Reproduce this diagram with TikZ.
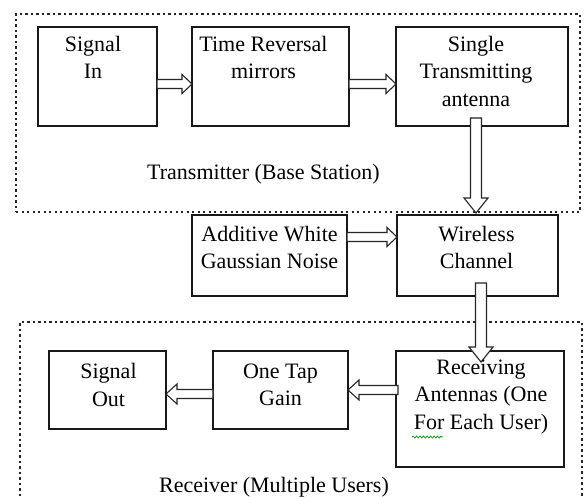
\documentclass[tikz,border=0pt]{standalone}
\usepackage{fontspec}
\setmainfont{Liberation Serif}
\usetikzlibrary{calc,decorations.pathmorphing}

\tikzset{
  box/.style={draw=black!90, line width=1.4pt, anchor=north west, inner sep=0pt, outer sep=0pt},
  txt/.style={anchor=north, align=center, inner sep=0pt, text=black,
              font=\fontsize{22}{27.5}\selectfont, execute at begin node=\strut},
  group/.style={draw=black!85, line width=2.2pt, dash pattern=on 2.2pt off 3.3pt,
                anchor=north west, inner sep=0pt, outer sep=0pt},
  blk/.style={draw=black!85, line width=1.1pt, fill=white, line join=miter},
  caption/.style={anchor=base, inner sep=0pt, text=black, font=\fontsize{22}{27.5}\selectfont},
}

% hollow block arrows between two anchor points
\newcommand\blockright[2]{\draw[blk] let \p1=#1, \p2=#2 in
  (\x1,{\y1+4.5pt}) -- ({\x2-10pt},{\y1+4.5pt}) -- ({\x2-10pt},{\y1+9.5pt}) -- (\x2,\y1)
  -- ({\x2-10pt},{\y1-9.5pt}) -- ({\x2-10pt},{\y1-4.5pt}) -- (\x1,{\y1-4.5pt}) -- cycle;}
\newcommand\blockleft[2]{\draw[blk] let \p1=#1, \p2=#2 in
  (\x1,{\y1+4.5pt}) -- ({\x2+11pt},{\y1+4.5pt}) -- ({\x2+11pt},{\y1+10pt}) -- (\x2,\y1)
  -- ({\x2+11pt},{\y1-10pt}) -- ({\x2+11pt},{\y1-4.5pt}) -- (\x1,{\y1-4.5pt}) -- cycle;}
\newcommand\blockdown[2]{\draw[blk] let \p1=#1, \p2=#2 in
  ({\x1-5.5pt},\y1) -- ({\x1-5.5pt},{\y2+15pt}) -- ({\x1-12pt},{\y2+15pt}) -- (\x1,\y2)
  -- ({\x1+12pt},{\y2+15pt}) -- ({\x1+5.5pt},{\y2+15pt}) -- ({\x1+5.5pt},\y1) -- cycle;}

\begin{document}
\begin{tikzpicture}[x=1pt,y=-1pt]
  \fill[white] (0,0) rectangle (584,497);
  \clip (0,0) rectangle (584,497);

  % dotted enclosures
  \node[group, minimum width=564pt, minimum height=198pt] (tx) at (16,14) {};
  \node[group, minimum width=562pt, minimum height=200pt] (rx) at (20,322) {};

  % blocks
  \node[box, minimum width=119pt, minimum height=99pt] (sigin)  at (38,27)  {};
  \node[box, minimum width=157pt, minimum height=99pt] (trm)    at (192,27) {};
  \node[box, minimum width=172pt, minimum height=99pt] (sta)    at (396,27) {};
  \node[box, minimum width=155pt, minimum height=81pt] (awgn)   at (192,215) {};
  \node[box, minimum width=161pt, minimum height=81pt] (wch)    at (397,215) {};
  \node[box, minimum width=117pt, minimum height=78pt] (sigout) at (49,351) {};
  \node[box, minimum width=135pt, minimum height=78pt] (tap)    at (213,351) {};
  \node[box, minimum width=168pt, minimum height=116pt] (rxa)   at (396,351) {};

  % connectors
  \blockright{([yshift=-7.5pt]sigin.east)}{([yshift=-7.5pt]trm.west)}
  \blockright{([yshift=-7.5pt]trm.east)}{([yshift=-7.5pt]sta.west)}
  \blockdown{([xshift=-6pt,yshift=8pt]sta.south)}{([xshift=-1.5pt,yshift=2pt]wch.north)}
  \blockright{([yshift=18.5pt]awgn.east)}{([yshift=18.5pt]wch.west)}
  \blockdown{([xshift=3.5pt,yshift=13pt]wch.south)}{([xshift=1pt,yshift=-11pt]rxa.north)}
  \blockleft{([xshift=2pt,yshift=19pt]rxa.west)}{(tap.east)}
  \blockleft{([yshift=-4pt]tap.west)}{(sigout.east)}

  % block texts
  \node[txt] (sigin-t)  at ([xshift=-4.5pt,yshift=-8.75pt]sigin.north) {Signal\\In};
  \node[txt] (trm-t)    at ([xshift=-7pt,yshift=-8.75pt]trm.north) {Time Reversal\\mirrors};
  \node[txt] (sta-t)    at ([xshift=-6pt,yshift=-8.75pt]sta.north) {Single\\Transmitting\\antenna};
  \node[txt] (awgn-t)   at ([yshift=-10.75pt]awgn.north) {Additive White\\Gaussian Noise};
  \node[txt] (wch-t)    at ([xshift=-1pt,yshift=-10.75pt]wch.north) {Wireless\\Channel};
  \node[txt] (sigout-t) at ([xshift=1pt,yshift=-12.25pt]sigout.north) {Signal\\Out};
  \node[txt] (tap-t)    at ([yshift=-12.25pt]tap.north) {One Tap\\Gain};
  \node[txt] (rxa-t)    at ([xshift=1pt,yshift=-8.5pt]rxa.north) {Receiving\\Antennas (One\\For Each User)};

  % spell-check squiggle under "For"
  \draw[green!60!black, line width=0.7pt, decorate,
        decoration={snake, amplitude=1pt, segment length=3.5pt}] (412,437) -- (443,437);

  % group captions
  \node[caption] (tx-cap) at (263.5,180) {Transmitter (Base Station)};
  \node[caption] (rx-cap) at (274,492) {Receiver (Multiple Users)};
\end{tikzpicture}
\end{document}
